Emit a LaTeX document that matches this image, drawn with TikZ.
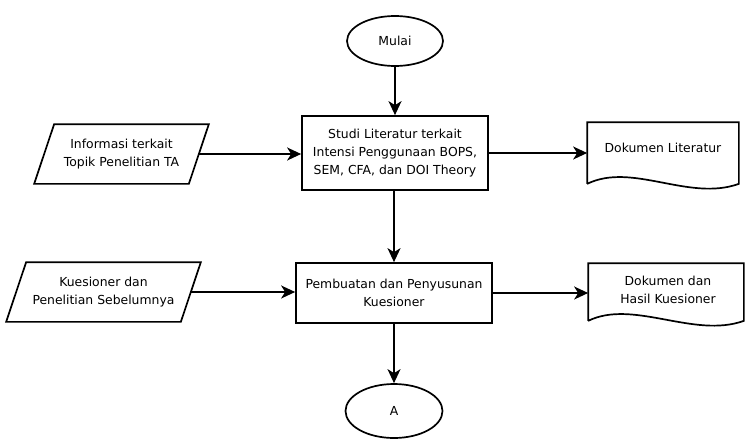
\documentclass[tikz,border=0pt]{standalone}
\usepackage{fontspec}
\setmainfont{DejaVu Sans}
\usetikzlibrary{arrows.meta,shapes.geometric}
\begin{document}
\begin{tikzpicture}[x=1pt,y=-1pt,
  line width=1.7pt,
  every node/.style={font=\fontsize{12.4}{18}\selectfont, align=center, inner sep=0pt},
  term/.style={draw, ellipse, minimum width=96pt, minimum height=50pt},
  proc/.style={draw, rectangle},
  iobox/.style={rectangle},
  docbox/.style={rectangle},
  flow/.style={-{Stealth[length=14pt,width=13pt,inset=4pt]}}]
\useasboundingbox (0,0) rectangle (746,439);

% terminators
\node[term] (start) at (395,41) {Mulai};
\node[term, minimum width=97pt, minimum height=54pt] (conn) at (394,411) {A};

% process steps
\node[proc, minimum width=186pt, minimum height=74pt] (lit) at (395,153)
  {Studi Literatur terkait\\Intensi Penggunaan BOPS,\\SEM, CFA, dan DOI Theory};
\node[proc, minimum width=196pt, minimum height=60pt] (kues) at (394,293)
  {Pembuatan dan Penyusunan\\Kuesioner};

% input parallelograms (outline drawn below)
\node[iobox, minimum width=153pt, minimum height=58pt] (in1) at (121.5,154)
  {Informasi terkait\\Topik Penelitian TA};
\node[iobox, minimum width=173pt, minimum height=58pt] (in2) at (103.5,292)
  {Kuesioner dan\\Penelitian Sebelumnya};
\foreach \n in {in1,in2}
  \draw ([xshift=-10pt]\n.south west) -- ([xshift=10pt]\n.north west)
     -- ([xshift=10pt]\n.north east) -- ([xshift=-10pt]\n.south east) -- cycle;

% documents (outline with wavy bottom drawn below)
\node[docbox, minimum width=150pt, minimum height=60pt] (doc1) at (663,153) {};
\node at (663,148) {Dokumen Literatur};
\node[docbox, minimum width=154pt, minimum height=56pt] (doc2) at (666,292) {};
\node at (668,290) {Dokumen dan\\Hasil Kuesioner};
\foreach \n in {doc1,doc2}
  \draw (\n.south west) -- (\n.north west) -- (\n.north east) -- (\n.south east)
    .. controls ([xshift=-50pt,yshift=-18pt]\n.south east)
            and ([xshift=45pt,yshift=22pt]\n.south west) .. (\n.south west);

% connectors
\draw[flow] (start) -- (start |- lit.north);
\draw[flow] (in1) -- (in1 -| lit.west);
\draw[flow] (lit.east |- doc1) -- (doc1.west);
\draw[flow] (lit.south -| kues) -- (kues.north);
\draw[flow] (in2) -- (in2 -| kues.west);
\draw[flow] (kues) -- (kues -| doc2.west);
\draw[flow] (kues) -- (conn);
\end{tikzpicture}
\end{document}
